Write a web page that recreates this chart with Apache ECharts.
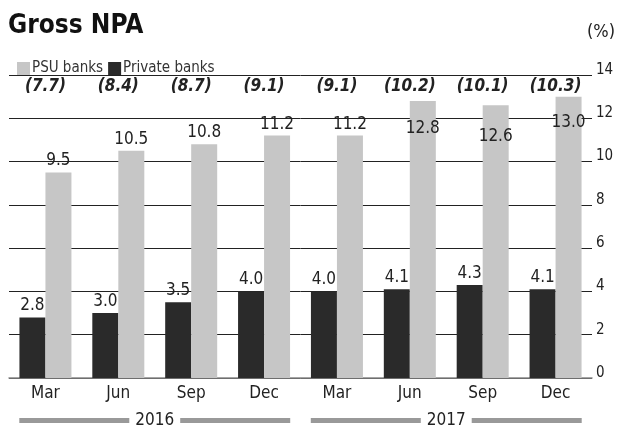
<!DOCTYPE html>
<html><head><meta charset="utf-8">
<script src="https://cdn.jsdelivr.net/npm/echarts@6/dist/echarts.min.js"></script>
<style>html,body{margin:0;padding:0;background:#fff}#c{width:620px;height:436px}</style>
</head><body><div id="c"></div>
<script>
var categories = ['Mar','Jun','Sep','Dec','Mar','Jun','Sep','Dec'];
var years = ['2016','2017'];
var psuBanks = [9.5,10.5,10.8,11.2,11.2,12.8,12.6,13.0];
var privateBanks = [2.8,3.0,3.5,4.0,4.0,4.1,4.3,4.1];
var overall = [7.7,8.4,8.7,9.1,9.1,10.2,10.1,10.3];
var yTicks = {min:0, max:14, interval:2};

var FONT = "'Liberation Sans Narrow','DejaVu Sans Condensed','Roboto Condensed',sans-serif";
var chart = echarts.init(document.getElementById('c'), null, {renderer:'canvas'});
var insideDist = {5:19, 6:23, 7:17};
var fmt = function(p){ return Number(p.value).toFixed(1); };

chart.setOption({
  animation:false,
  textStyle:{fontFamily:FONT},
  title:[
    {text:'Gross NPA', left:3, top:8, textStyle:{fontFamily:FONT, fontSize:26, fontWeight:'bold', color:'#111'}},
    {text:'(%)', right:0, top:18, textStyle:{fontFamily:FONT, fontSize:18, fontWeight:'normal', color:'#222'}}
  ],
  legend:{
    data:['PSU banks','Private banks'], left:12, top:56, itemWidth:13, itemHeight:13, itemGap:5,
    icon:'rect', textStyle:{fontFamily:FONT, fontSize:15, color:'#333', padding:[0,0,0,-3]}
  },
  grid:{left:9, right:28, top:75, bottom:58},
  xAxis:[
    {type:'category', data:categories, position:'bottom',
     axisLine:{lineStyle:{color:'#888', width:1.5}}, axisTick:{show:false},
     axisLabel:{fontFamily:FONT, fontSize:17, color:'#222', margin:7}},
    {type:'category', data:years, position:'bottom', offset:26,
     axisLine:{show:false}, axisTick:{show:false},
     axisLabel:{interval:0, formatter:function(v){return '{l|}{t|'+v+'}{l|}';},
       rich:{l:{width:110, height:5, backgroundColor:'#999'},
             t:{fontFamily:FONT, fontSize:17, color:'#222', padding:[0,6,0,6]}}}},
    {type:'category', data:overall.map(function(v){return '('+v.toFixed(1)+')';}), position:'top',
     axisLine:{show:false}, axisTick:{show:false},
     axisLabel:{inside:true, interval:0, margin:3, fontFamily:FONT, fontSize:17, fontWeight:'bold', fontStyle:'italic', color:'#222'}}
  ],
  yAxis:{type:'value', position:'right', min:yTicks.min, max:yTicks.max, interval:yTicks.interval,
    axisLine:{show:false}, axisTick:{show:false},
    splitLine:{lineStyle:{color:'#222', width:1}},
    axisLabel:{fontFamily:FONT, fontSize:15, color:'#222', margin:4, verticalAlign:'bottom', lineHeight:10}},
  series:[
    {name:'Private banks', type:'bar', xAxisIndex:0, data:privateBanks, barWidth:26, barGap:'0%',
     itemStyle:{color:'#2a2a2a'},
     label:{show:true, position:'top', distance:3, formatter:fmt, fontFamily:FONT, fontSize:17, color:'#222'}},
    {name:'PSU banks', type:'bar', xAxisIndex:0, barWidth:26, barGap:'0%',
     data:psuBanks.map(function(v,i){
       return insideDist[i]!==undefined ? {value:v, label:{position:'insideTop', distance:insideDist[i]}} : v;
     }),
     itemStyle:{color:'#c6c6c6'},
     label:{show:true, position:'top', distance:3, formatter:fmt, fontFamily:FONT, fontSize:17, color:'#222'}}
  ]
});
</script></body></html>
